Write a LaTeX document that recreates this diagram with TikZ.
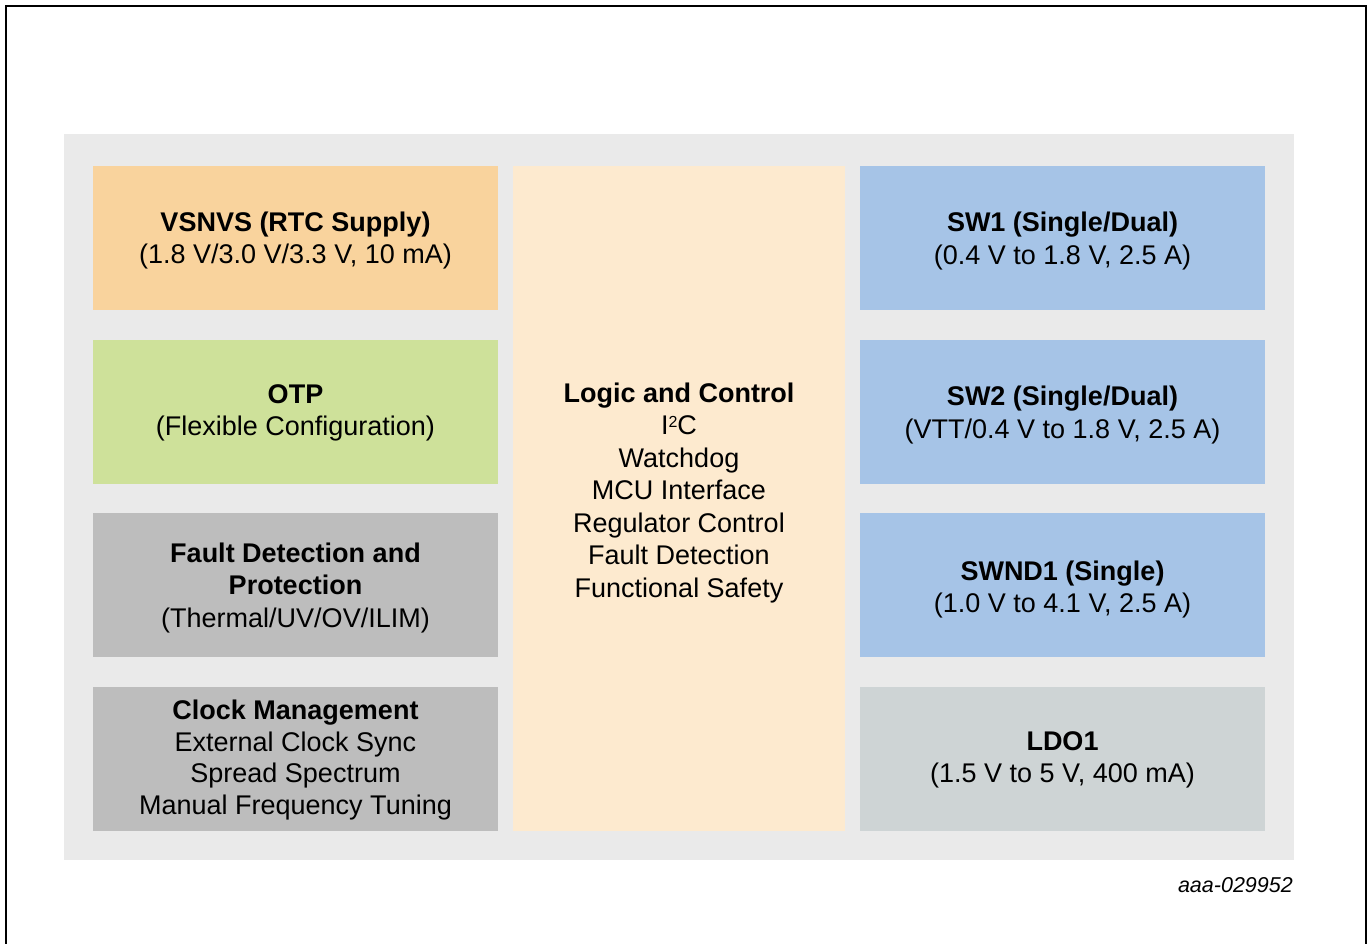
\documentclass[tikz,border=0pt]{standalone}
\usepackage{fontspec}
\setmainfont{Liberation Sans}
\definecolor{bggray}{HTML}{EAEAEA}
\definecolor{orangebox}{HTML}{F9D39D}
\definecolor{greenbox}{HTML}{CEE19A}
\definecolor{graybox}{HTML}{BDBDBD}
\definecolor{creambox}{HTML}{FDEACF}
\definecolor{bluebox}{HTML}{A6C4E7}
\definecolor{ldobox}{HTML}{CED4D5}
\begin{document}
\begin{tikzpicture}[x=1pt,y=-1pt,
  blk/.style={draw=none, inner sep=0pt, minimum width=405pt, minimum height=144pt},
  txt/.style={inner sep=0pt, align=center, font=\fontsize{27}{32.5}\selectfont},
  tag/.style={inner sep=0pt, anchor=east, font=\fontsize{21.5}{25}\selectfont\itshape}]
\useasboundingbox (0,0) rectangle (1369,944);
\fill[white] (0,0) rectangle (1369,944);
\draw[line width=2pt] (6,944) -- (6,6) -- (1366,6) -- (1366,944);
\fill[bggray] (64,134) rectangle (1294,860);
% left column
\node[blk, fill=orangebox] (vsnvs) at (295.5,238) {};
\node[blk, fill=greenbox] (otp) at (295.5,412) {};
\node[blk, fill=graybox] (fault) at (295.5,585) {};
\node[blk, fill=graybox] (clock) at (295.5,759) {};
% middle
\node[draw=none, inner sep=0pt, minimum width=332pt, minimum height=665pt, fill=creambox] (logic) at (679,498.5) {};
% right column
\node[blk, fill=bluebox] (sw1) at (1062.5,238) {};
\node[blk, fill=bluebox] (sw2) at (1062.5,412) {};
\node[blk, fill=bluebox] (swnd1) at (1062.5,585) {};
\node[blk, fill=ldobox] (ldo1) at (1062.5,759) {};
% texts
\node[txt, yshift=-2.5pt] (vsnvst) at (vsnvs.center) {\textbf{VSNVS (RTC Supply)}\\(1.8 V/3.0 V/3.3 V, 10 mA)};
\node[txt, yshift=-1pt] (otpt) at (otp.center) {\textbf{OTP}\\(Flexible Configuration)};
\node[txt, yshift=-3pt] (faultt) at (fault.center) {\textbf{Fault Detection and}\\\textbf{Protection}\\(Thermal/UV/OV/ILIM)};
\node[txt, font=\fontsize{27}{31.5}\selectfont, yshift=-1pt] (clockt) at (clock.center) {\textbf{Clock Management}\\External Clock Sync\\Spread Spectrum\\Manual Frequency Tuning};
\node[txt, yshift=-3pt] (logict) at (679,490) {\textbf{Logic and Control}\\I\raisebox{0.55ex}{\fontsize{16}{16}\selectfont 2}C\\Watchdog\\MCU Interface\\Regulator Control\\Fault Detection\\Functional Safety};
\node[txt, yshift=-3pt] (sw1t) at (sw1.center) {\textbf{SW1 (Single/Dual)}\\(0.4 V to 1.8 V, 2.5 A)};
\node[txt, yshift=-3pt] (sw2t) at (sw2.center) {\textbf{SW2 (Single/Dual)}\\(VTT/0.4 V to 1.8 V, 2.5 A)};
\node[txt, yshift=-4.5pt] (swnd1t) at (swnd1.center) {\textbf{SWND1 (Single)}\\(1.0 V to 4.1 V, 2.5 A)};
\node[txt, yshift=-1pt] (ldo1t) at (ldo1.center) {\textbf{LDO1}\\(1.5 V to 5 V, 400 mA)};
\node[tag] (code) at (1293,885) {aaa-029952};
\end{tikzpicture}
\end{document}
